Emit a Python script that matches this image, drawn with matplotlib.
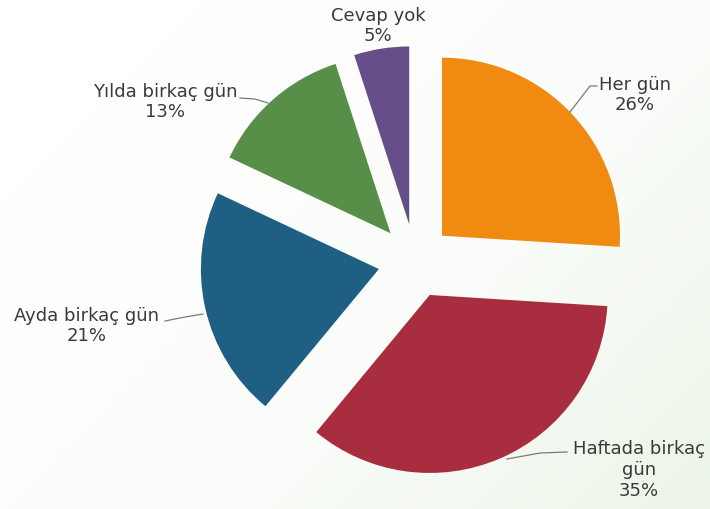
import numpy as np
import matplotlib
matplotlib.use("Agg")
import matplotlib.pyplot as plt
from matplotlib.colors import LinearSegmentedColormap

# ---- data ----
categories = ["Her gün", "Haftada birkaç\ngün", "Ayda birkaç gün", "Yılda birkaç gün", "Cevap yok"]
values = [26, 35, 21, 13, 5]
colors = ["#F08A10", "#A82D3F", "#1E5F83", "#578F49", "#664F89"]

W, H = 710, 510
fig = plt.figure(figsize=(W / 100, H / 100), dpi=100)
ax = fig.add_axes([0, 0, 1, 1])

# background gradient (white top-left -> pale green bottom-right)
gx, gy = np.meshgrid(np.linspace(0, 1, 200), np.linspace(0, 1, 200))
grad = np.clip(0.7 * gx + 0.5 * gy - 0.2, 0, 1)
cmap = LinearSegmentedColormap.from_list("bg", ["#ffffff", "#fbfdfa", "#ecf5e8"])
ax.imshow(grad, cmap=cmap, extent=[0, W, 0, H], origin="upper", aspect="auto", zorder=0)

cx, cy, R = 415, H - 262, 178
wedges, _ = ax.pie(values, colors=colors, startangle=90, counterclock=False,
                   explode=[37] * len(values), center=(cx, cy), radius=R,
                   wedgeprops=dict(linewidth=0), frame=True)
for w in wedges:
    w.set_zorder(2)

ax.set_xlim(0, W)
ax.set_ylim(0, H)
ax.set_aspect("auto")
ax.axis("off")

tc = "#3a3a3a"
fs = 13
def lab(x, y, s):
    ax.text(x, H - y, s, ha="center", va="center", fontsize=fs, color=tc,
            linespacing=1.2, family="DejaVu Sans", zorder=3)

def leader(pts):
    xs = [p[0] for p in pts]
    ys = [H - p[1] for p in pts]
    ax.plot(xs, ys, color="#7a7a7a", lw=0.9, zorder=3)

lab(635, 95, categories[0] + "\n26%")
leader([(597, 87), (590, 87), (570, 113)])

lab(639, 470, categories[1] + "\n35%")
leader([(567, 453), (540, 454), (507, 460)])

lab(87, 326, categories[2] + "\n21%")
leader([(165, 322), (185, 318), (203, 315)])

lab(165, 102, categories[3] + "\n13%")
leader([(240, 99), (255, 100), (268, 104)])

lab(378, 26, categories[4] + "\n5%")

fig.savefig("out.png", dpi=100)
